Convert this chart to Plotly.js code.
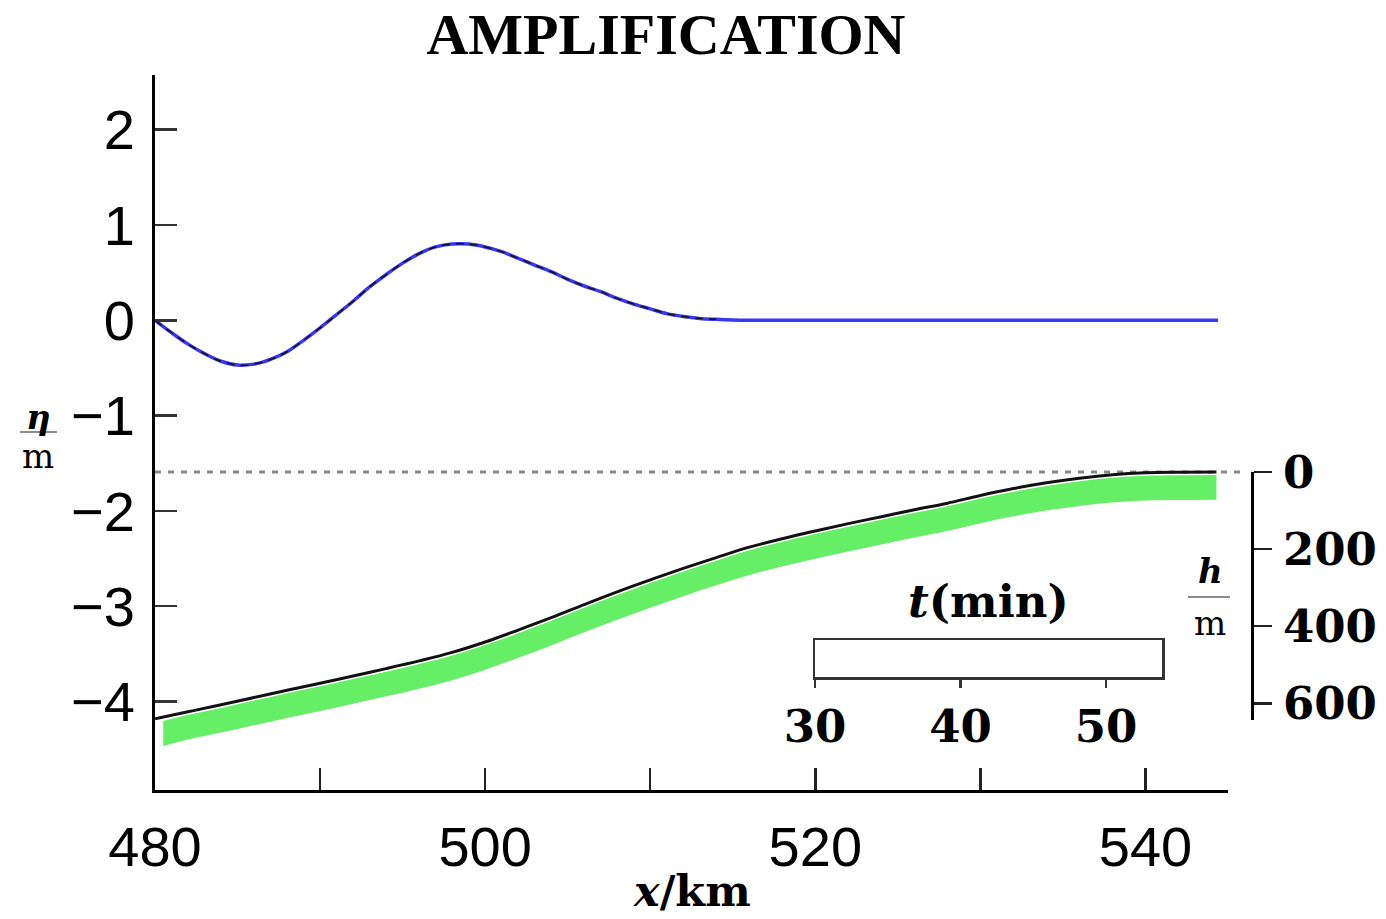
<!DOCTYPE html>
<html>
<head>
<meta charset="utf-8">
<script src="https://cdn.plot.ly/plotly-3.0.1.min.js"></script>
<style>html,body{margin:0;padding:0;background:#fff;}#chart{width:1386px;height:919px;}</style>
</head>
<body>
<div id="chart"></div>
<script>
// ---- data ----
// surface elevation eta (m) vs x (km)
const etaX = [480,481,482,483,484,485,486,487,488,489,490,491,492,493,494,495,496,497,498,499,500,501,502,503,504,505,506,507,508,509,510,511,512,513,514,515,516,520,525,530,535,540,544.4];
const etaY = [0,-0.13,-0.25,-0.35,-0.43,-0.47,-0.46,-0.41,-0.33,-0.21,-0.08,0.06,0.20,0.35,0.48,0.60,0.70,0.77,0.80,0.80,0.77,0.72,0.65,0.58,0.51,0.43,0.36,0.30,0.23,0.17,0.12,0.07,0.04,0.02,0.01,0.003,0,0,0,0,0,0,0];
// water depth h (m) vs x (km)
const depthX = [480,482,484,486,488,490,492,494,496,498,500,502,504,506,508,510,512,514,516,518,520,522,524,526,528,530,532,534,536,538,540,542,544.3];
const depthH = [640,622,604,585,566,548,529,510,490,468,441,410,378,344,311,280,250,222,195,173,153,134,116,98,81,61,43,28,16,7,2,0.5,0];
// green band (m) below the sea floor line
const bandX = [480.5,482,484,486,488,490,492,494,496,498,500,502,504,506,508,510,512,514,516,518,520,522,524,526,528,530,532,534,536,538,540,542,544.3];
const bandTop = [646,630,612,593,574,556,537,518,498,476,449,418,386,352,319,288,258,230,203,181,161,142,124,106,89,69,51,36,24,15,10,8.5,8];
const bandBottom = [711,694,676,657,638,620,601,582,562,540,513,482,450,416,383,352,322,294,267,245,225,206,188,170,153,133,115,100,88,79,74,72.5,72];
// axes ticks
const xTickVals = [480,490,500,510,520,530,540];
const xTickText = ['480','','500','','520','','540'];
const etaTicks = [-4,-3,-2,-1,0,1,2];
const depthTicks = [0,200,400,600];
const timeTicks = [30,40,50];
const etaOverlayEnd = 514;

// ---- layout geometry ----
const W = 1386, H = 919, L = 155, R = 86, T = 75, B = 129;
const PW = W - L - R, PH = H - T - B;
const px = v => (v - L) / PW;
const py = v => (H - B - v) / PH;

const ovIdx = etaX.filter(v => v <= etaOverlayEnd).length;

const green = '#66ef66';
const traces = [
  {x: bandX, y: bandBottom, xaxis: 'x', yaxis: 'y4', mode: 'lines', line: {width: 0, color: green, shape: 'spline'}, hoverinfo: 'skip', showlegend: false},
  {x: bandX, y: bandTop, xaxis: 'x', yaxis: 'y4', mode: 'lines', fill: 'tonexty', fillcolor: green, line: {width: 0, color: green, shape: 'spline'}, hoverinfo: 'skip', showlegend: false},
  {x: depthX, y: depthH, xaxis: 'x', yaxis: 'y4', mode: 'lines', line: {width: 3, color: '#111', shape: 'spline'}, showlegend: false},
  {x: etaX, y: etaY, xaxis: 'x', yaxis: 'y', mode: 'lines', line: {width: 3.5, color: '#3838ee', shape: 'spline'}, showlegend: false},
  {x: etaX.slice(0, ovIdx), y: etaY.slice(0, ovIdx), xaxis: 'x', yaxis: 'y', mode: 'lines', line: {width: 1.5, color: '#111', dash: '8px,6px', shape: 'spline'}, showlegend: false},
  {x: [null], y: [null], xaxis: 'x', yaxis: 'y2', mode: 'lines', showlegend: false, hoverinfo: 'skip'},
  {x: [null], y: [null], xaxis: 'x3', yaxis: 'y3', mode: 'lines', showlegend: false, hoverinfo: 'skip'}
];

const sans = {family: 'Liberation Sans, Arial, sans-serif', size: 56, color: '#000'};
const serifB = {family: 'DejaVu Serif, serif', size: 45, color: '#000', weight: 'bold'};

const hPerPx = 1 / 0.3855;
const h = v => (v - 472) * hPerPx;

const layout = {
  width: W, height: H,
  paper_bgcolor: '#fff', plot_bgcolor: 'rgba(0,0,0,0)',
  margin: {l: L, r: R, t: T, b: B, pad: 0},
  showlegend: false,
  title: {text: 'AMPLIFICATION', font: {family: 'Liberation Serif, Times New Roman, serif', size: 58, weight: 'bold', color: '#000'},
          xref: 'container', x: 666 / W, xanchor: 'center', yref: 'container', y: 1 - 34 / H, yanchor: 'middle'},
  xaxis: {domain: [0, px(1228)], range: [480, 545], showgrid: false, zeroline: false,
          showline: true, linecolor: '#000', linewidth: 3,
          ticks: 'inside', ticklen: 22, tickwidth: 2.5, tickcolor: '#222',
          tickvals: xTickVals, ticktext: xTickText, tickfont: sans, ticklabelstandoff: 6},
  yaxis: {domain: [0, 1], range: [-(790 - 320.3) / 95.3, (320.3 - 75) / 95.3], showgrid: false, zeroline: false,
          showline: true, linecolor: '#000', linewidth: 3,
          ticks: 'inside', ticklen: 22, tickwidth: 2.5, tickcolor: '#333',
          tickvals: etaTicks, tickfont: sans, ticklabelstandoff: 6},
  yaxis2: {domain: [py(720), py(472)], range: [h(720), 0], anchor: 'free', position: px(1252), side: 'right',
           showgrid: false, zeroline: false, showline: true, linecolor: '#000', linewidth: 3,
           ticks: 'outside', ticklen: 18, tickwidth: 2.5, tickcolor: '#222',
           tickvals: depthTicks, tickfont: serifB, ticklabelstandoff: 2},
  yaxis4: {overlaying: 'y', anchor: 'x', range: [h(790), h(75)], visible: false},
  xaxis3: {domain: [px(815), px(1162)], anchor: 'y3', range: [30, 30 + (1162 - 815) / 14.55],
           showgrid: false, zeroline: false, showline: true, mirror: true, linecolor: '#333', linewidth: 2.5,
           ticks: 'outside', ticklen: 8, tickwidth: 2.5, tickcolor: '#333',
           tickvals: timeTicks, tickfont: serifB, ticklabelstandoff: 0},
  yaxis3: {domain: [py(677), py(640)], anchor: 'x3', range: [0, 1], showgrid: false, zeroline: false,
           showline: true, mirror: true, linecolor: '#333', linewidth: 2.5, ticks: '', showticklabels: false},
  shapes: [
    {type: 'line', xref: 'paper', yref: 'y4', x0: 0, x1: px(1245), y0: 0, y1: 0, line: {color: '#888', width: 3, dash: '6px,7px'}, layer: 'below'},
    {type: 'line', xref: 'paper', yref: 'paper', x0: px(20), x1: px(57), y0: py(432), y1: py(432), line: {color: '#666', width: 1.5}},
    {type: 'line', xref: 'paper', yref: 'paper', x0: px(1188), x1: px(1230), y0: py(597), y1: py(597), line: {color: '#666', width: 1.5}}
  ],
  annotations: [
    {xref: 'paper', yref: 'paper', x: px(38), y: py(417), text: '<i>η</i>', showarrow: false, xanchor: 'center', yanchor: 'middle',
     font: {family: 'DejaVu Serif, serif', size: 34, color: '#000', weight: 'bold'}},
    {xref: 'paper', yref: 'paper', x: px(38), y: py(456), text: 'm', showarrow: false, xanchor: 'center', yanchor: 'middle',
     font: {family: 'DejaVu Serif, serif', size: 34, color: '#000'}},
    {xref: 'paper', yref: 'paper', x: px(1210), y: py(571), text: '<i>h</i>', showarrow: false, xanchor: 'center', yanchor: 'middle',
     font: {family: 'DejaVu Serif, serif', size: 34, color: '#000', weight: 'bold'}},
    {xref: 'paper', yref: 'paper', x: px(1210), y: py(623), text: 'm', showarrow: false, xanchor: 'center', yanchor: 'middle',
     font: {family: 'DejaVu Serif, serif', size: 34, color: '#000'}},
    {xref: 'paper', yref: 'paper', x: px(692), y: py(891), text: '<i>x</i>/km', showarrow: false, xanchor: 'center', yanchor: 'middle',
     font: {family: 'DejaVu Serif, serif', size: 43, color: '#000', weight: 'bold'}},
    {xref: 'paper', yref: 'paper', x: px(988), y: py(601), text: '<i>t</i>(min)', showarrow: false, xanchor: 'center', yanchor: 'middle',
     font: {family: 'DejaVu Serif, serif', size: 45, color: '#000', weight: 'bold'}}
  ]
};

Plotly.newPlot('chart', traces, layout, {staticPlot: true, displayModeBar: false});
</script>
</body>
</html>
